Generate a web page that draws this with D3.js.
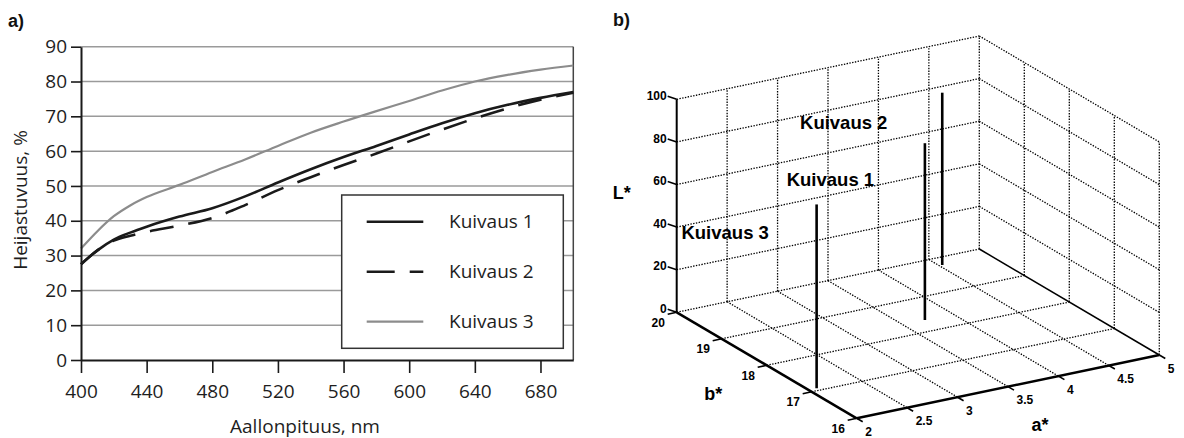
<!DOCTYPE html>
<html>
<head>
<meta charset="utf-8">
<script src="https://cdn.jsdelivr.net/npm/d3@7"></script>
<style>
  html, body { margin: 0; padding: 0; background: #fff; }
  svg { display: block; }
</style>
</head>
<body>
<svg id="chart" width="1184" height="438"></svg>
<script>
// ---------- DATA: panel a ----------
const wavelengths = [400, 410, 420, 430, 440, 460, 480, 500, 520, 540, 560, 580, 600, 620, 640, 660, 680, 700];
const kuivaus1 = [27.5, 31.5, 34.6, 36.6, 38.3, 41.2, 43.6, 47.0, 51.0, 54.8, 58.3, 61.5, 64.8, 68.0, 70.9, 73.3, 75.3, 77.0];
const kuivaus2 = [27.5, 31.5, 34.3, 35.7, 36.8, 38.6, 40.8, 44.5, 48.8, 52.5, 56.0, 59.3, 62.8, 66.2, 69.4, 72.3, 74.8, 76.8];
const kuivaus3 = [32.0, 37.0, 41.3, 44.4, 46.8, 50.3, 54.0, 57.6, 61.5, 65.3, 68.5, 71.5, 74.4, 77.4, 80.0, 81.9, 83.4, 84.6];
const seriesNames = ["Kuivaus 1", "Kuivaus 2", "Kuivaus 3"];
const xTicksA = [400, 440, 480, 520, 560, 600, 640, 680];
const yTicksA = [0, 10, 20, 30, 40, 50, 60, 70, 80, 90];
const xTitleA = "Aallonpituus, nm";
const yTitleA = "Heijastuvuus, %";

// ---------- DATA: panel b (CIELAB) ----------
const labNames = ["Kuivaus 1", "Kuivaus 2", "Kuivaus 3"];
const labA = [3.72, 4.53, 2.08];
const labB = [18.34, 19.77, 17.07];
const labL = [83.0, 80.9, 86.3];
// annotation anchors (data units a*, b*, L*)
const labTextA = [2.35, 3.12, 0.74];
const labTextB = [18.34, 19.77, 17.07];
const labTextL = [79.3, 80.9, 86.3];
const aTicks = [2, 2.5, 3, 3.5, 4, 4.5, 5];
const bTicks = [16, 17, 18, 19, 20];
const LTicks = [0, 20, 40, 60, 80, 100];

const svg = d3.select("#chart");

// ================= PANEL A =================
const sansA = "'Open Sans', 'Noto Sans', sans-serif";
const textCol = "#1e1e1e";
const x = d3.scaleLinear().domain([400, 700]).range([81, 573.3]);
const y = d3.scaleLinear().domain([0, 90]).range([360, 46.7]);

const gA = svg.append("g");

// gridlines
gA.append("g").selectAll("line").data(yTicksA.filter(d => d > 0)).join("line")
  .attr("x1", x(400)).attr("x2", x(700))
  .attr("y1", d => y(d)).attr("y2", d => y(d))
  .attr("stroke", "#9a9a9a").attr("stroke-width", 1.5);

// right border
gA.append("line")
  .attr("x1", x(700)).attr("x2", x(700))
  .attr("y1", y(90)).attr("y2", y(0))
  .attr("stroke", "#444").attr("stroke-width", 1.5);

// series lines
const lineGen = d3.line()
  .x((d, i) => x(wavelengths[i]))
  .y(d => y(d))
  .curve(d3.curveMonotoneX);

const seriesStyles = [
  { data: kuivaus1, color: "#1a1a1a", width: 2.6, dash: null },
  { data: kuivaus2, color: "#1a1a1a", width: 2.6, dash: "24,15" },
  { data: kuivaus3, color: "#8c8c8c", width: 2.2, dash: null }
];
seriesStyles.slice().reverse().forEach(s => {
  gA.append("path")
    .attr("d", lineGen(s.data))
    .attr("fill", "none")
    .attr("stroke", s.color)
    .attr("stroke-width", s.width)
    .attr("stroke-dasharray", s.dash);
});

// axes
const yAxis = d3.axisLeft(y).tickValues(yTicksA).tickSize(10).tickPadding(4).tickSizeOuter(0);
const gy = gA.append("g").attr("transform", `translate(${x(400)},0)`).call(yAxis);
gy.select(".domain").attr("stroke", "#1a1a1a").attr("stroke-width", 2);
gy.selectAll(".tick line").attr("stroke", "#1a1a1a").attr("stroke-width", 1.6);
gy.selectAll(".tick text").attr("font-family", sansA).attr("font-size", 19).attr("fill", textCol);

const xAxis = d3.axisBottom(x).tickValues(xTicksA).tickSize(13).tickPadding(12).tickSizeOuter(0);
const gx = gA.append("g").attr("transform", `translate(0,${y(0)})`).call(xAxis);
gx.select(".domain").attr("stroke", "#1a1a1a").attr("stroke-width", 2);
gx.selectAll(".tick line").attr("stroke", "#1a1a1a").attr("stroke-width", 1.6);
gx.selectAll(".tick text").attr("font-family", sansA).attr("font-size", 19).attr("fill", textCol);

// axis titles
gA.append("text").text(xTitleA)
  .attr("x", 305).attr("y", 433)
  .attr("text-anchor", "middle")
  .attr("font-family", sansA).attr("font-size", 19).attr("fill", textCol);
gA.append("text").text(yTitleA)
  .attr("transform", "translate(27,200) rotate(-90)")
  .attr("text-anchor", "middle")
  .attr("font-family", sansA).attr("font-size", 19).attr("fill", textCol);

// legend
const legend = gA.append("g");
legend.append("rect")
  .attr("x", 341.7).attr("y", 195).attr("width", 221.6).attr("height", 153.3)
  .attr("fill", "#fff").attr("stroke", "#333").attr("stroke-width", 1.5);
seriesNames.forEach((name, i) => {
  const s = seriesStyles[i];
  const ly = 221.7 + i * 50;
  legend.append("line")
    .attr("x1", 366.7).attr("x2", 423.3).attr("y1", ly).attr("y2", ly)
    .attr("stroke", s.color).attr("stroke-width", s.width)
    .attr("stroke-dasharray", s.dash ? "28,15" : null);
  legend.append("text").text(name)
    .attr("x", 449).attr("y", ly).attr("dy", "0.35em")
    .attr("font-family", sansA).attr("font-size", 19).attr("fill", textCol);
});

// panel label
svg.append("text").text("a)")
  .attr("x", 8).attr("y", 27)
  .attr("font-family", "'Liberation Sans', Arial, sans-serif")
  .attr("font-weight", "bold").attr("font-size", 18).attr("fill", "#111");

// ================= PANEL B =================
const boldSans = "'Liberation Sans', Arial, Helvetica, sans-serif";
const sa = d3.scaleLinear().domain([2, 5]).range([0, 1]);
const sb = d3.scaleLinear().domain([20, 16]).range([0, 1]);
const sL = d3.scaleLinear().domain([0, 100]).range([0, 1]);
const O = [676.7, 312.3];
const VA = [302.6, -63.3];
const VB = [180, 106];
const VL = [0, -213];
function proj(a, b, L) {
  const u = sa(a), v = sb(b), w = sL(L);
  return [O[0] + u * VA[0] + v * VB[0] + w * VL[0],
          O[1] + u * VA[1] + v * VB[1] + w * VL[1]];
}

const gB = svg.append("g");
const dotted = sel => sel.attr("stroke", "#000").attr("stroke-width", 1.3).attr("stroke-dasharray", "1.4,1.4").attr("fill", "none");

function seg(g, p1, p2) {
  return g.append("line").attr("x1", p1[0]).attr("y1", p1[1]).attr("x2", p2[0]).attr("y2", p2[1]);
}

const gridG = gB.append("g");
// floor: lines of constant a (along b)
aTicks.slice(1, -1).forEach(a => dotted(seg(gridG, proj(a, 20, 0), proj(a, 16, 0))));
// floor: lines of constant b (along a)
bTicks.slice(1).forEach(b => dotted(seg(gridG, proj(2, b, 0), proj(5, b, 0))));
// back wall (b = 20): verticals and horizontals
aTicks.slice(1).forEach(a => dotted(seg(gridG, proj(a, 20, 0), proj(a, 20, 100))));
LTicks.slice(1).forEach(L => dotted(seg(gridG, proj(2, 20, L), proj(5, 20, L))));
// side wall (a = 5)
bTicks.slice(0, -1).forEach(b => dotted(seg(gridG, proj(5, b, 0), proj(5, b, 100))));
LTicks.slice(1).forEach(L => dotted(seg(gridG, proj(5, 20, L), proj(5, 16, L))));

// solid edges / axes
const axG = gB.append("g").attr("stroke", "#000").attr("fill", "none");
seg(axG, proj(5, 20, 0), proj(5, 16, 0)).attr("stroke-width", 1.5);
seg(axG, proj(2, 20, 0), proj(2, 20, 100)).attr("stroke-width", 2);
seg(axG, proj(2, 20, 0), proj(2, 16, 0)).attr("stroke-width", 2.5);
seg(axG, proj(2, 16, 0), proj(5, 16, 0)).attr("stroke-width", 2.5);

// L ticks
LTicks.forEach(L => {
  const p = proj(2, 20, L);
  seg(axG, p, [p[0] - 9, p[1] - 3]).attr("stroke-width", 1.6);
  gB.append("text").text(L)
    .attr("x", p[0] - 10).attr("y", p[1] - 3.5).attr("dy", "0.35em")
    .attr("text-anchor", "end")
    .attr("font-family", boldSans).attr("font-weight", "bold").attr("font-size", 12).attr("fill", "#000");
});
// b ticks
bTicks.forEach(b => {
  const p = proj(2, b, 0);
  seg(axG, p, [p[0] - 9, p[1] + 2]).attr("stroke-width", 1.6);
  gB.append("text").text(b)
    .attr("x", p[0] - 18.4).attr("y", p[1] + 10.2).attr("dy", "0.35em")
    .attr("text-anchor", "middle")
    .attr("font-family", boldSans).attr("font-weight", "bold").attr("font-size", 12).attr("fill", "#000");
});
// a ticks
aTicks.forEach(a => {
  const p = proj(a, 16, 0);
  seg(axG, p, [p[0] + 6, p[1] + 3.5]).attr("stroke-width", 1.6);
  gB.append("text").text(a)
    .attr("x", p[0] + 8.5).attr("y", p[1] + 13.5).attr("dy", "0.35em")
    .attr("text-anchor", "start")
    .attr("font-family", boldSans).attr("font-weight", "bold").attr("font-size", 12).attr("fill", "#000");
});

// axis titles
[["L*", 621.7, 192.7], ["b*", 713.3, 393.3], ["a*", 1040, 425]].forEach(([t, tx, ty]) => {
  gB.append("text").text(t)
    .attr("x", tx).attr("y", ty).attr("dy", "0.35em").attr("text-anchor", "middle")
    .attr("font-family", boldSans).attr("font-weight", "bold").attr("font-size", 18).attr("fill", "#000");
});

// stems
labNames.forEach((name, i) => {
  seg(gB, proj(labA[i], labB[i], 0), proj(labA[i], labB[i], labL[i]))
    .attr("stroke", "#000").attr("stroke-width", 2.6);
  const tp = proj(labTextA[i], labTextB[i], labTextL[i]);
  gB.append("text").text(name)
    .attr("x", tp[0]).attr("y", tp[1]).attr("dy", "0.35em")
    .attr("font-family", boldSans).attr("font-weight", "bold").attr("font-size", 18.5).attr("fill", "#000");
});

svg.append("text").text("b)")
  .attr("x", 613).attr("y", 26)
  .attr("font-family", boldSans)
  .attr("font-weight", "bold").attr("font-size", 18).attr("fill", "#111");
</script>
</body>
</html>
